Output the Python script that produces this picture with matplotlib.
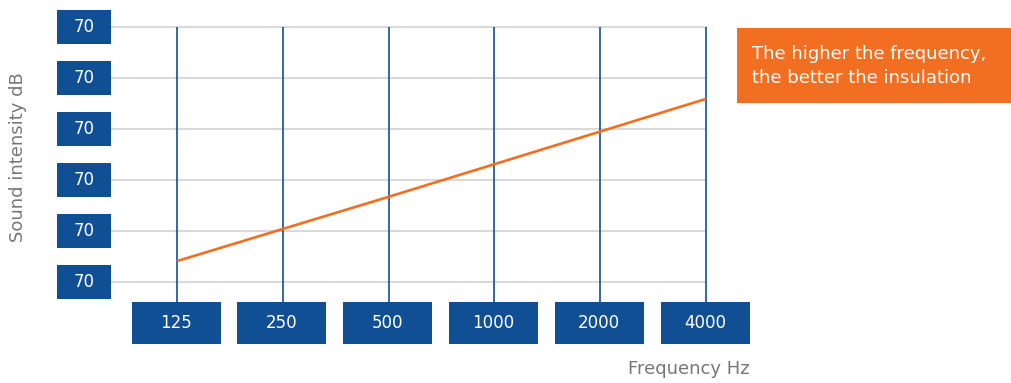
import matplotlib
matplotlib.use("Agg")
import matplotlib.pyplot as plt
from matplotlib.patches import Rectangle

# Data
frequencies = ["125", "250", "500", "1000", "2000", "4000"]
intensity_levels = [0.41, 1.04, 1.67, 2.31, 2.95, 3.59]   # in gridline units
y_tick_positions = [0, 1, 2, 3, 4, 5]
y_tick_labels = ["70", "70", "70", "70", "70", "70"]
note_lines = ["The higher the frequency,", "the better the insulation"]

BLUE = "#114f95"
ORANGE = "#f26f21"
GRID = "#d9d9d9"
GREY_TEXT = "#777777"
FONT = "DejaVu Sans"

W, H = 1011, 383
fig = plt.figure(figsize=(W / 100, H / 100), dpi=100)

# Axes spans from the right edge of the y boxes to the last frequency line
x0_px, x1_px, y_top_px, y_bot_px = 111, 706, 27, 302
ax = fig.add_axes([x0_px / W, 1 - y_bot_px / H, (x1_px - x0_px) / W, (y_bot_px - y_top_px) / H])

xs = list(range(len(frequencies)))
x_step_px = (706 - 177) / 5
y_step_px = (282 - 27) / 5
ax.set_xlim(-(177 - x0_px) / x_step_px, 5)
ax.set_ylim(-(y_bot_px - 282) / y_step_px, 5)

for s in ax.spines.values():
    s.set_visible(False)
ax.set_xticks([])
ax.set_yticks([])

# Horizontal gridlines
for yv in y_tick_positions:
    ax.axhline(yv, color=GRID, lw=1.5, zorder=1, clip_on=False)

# Vertical frequency lines
ymin = ax.get_ylim()[0]
ax.vlines(xs, ymin, 5, color=BLUE, lw=1.2, zorder=2, clip_on=False)

# Intensity line
ax.plot(xs, intensity_levels, color=ORANGE, lw=1.9, zorder=3, solid_capstyle="butt")

# Y tick boxes
ybox_left = -(177 - 57) / x_step_px
ybox_w = (111 - 57) / x_step_px
ybox_h = 34 / y_step_px
for yv, lab in zip(y_tick_positions, y_tick_labels):
    ax.add_patch(Rectangle((ybox_left, yv - ybox_h / 2), ybox_w, ybox_h,
                           facecolor=BLUE, edgecolor="none", clip_on=False, zorder=4))
    ax.text(ybox_left + ybox_w / 2, yv, lab, color="white", fontsize=12,
            family=FONT, ha="center", va="center", zorder=5, clip_on=False)

# X tick boxes
xbox_w = 89 / x_step_px
xbox_top = -(302 - 282) / y_step_px
xbox_h = 42 / y_step_px
for xv, lab in zip(xs, frequencies):
    ax.add_patch(Rectangle((xv - xbox_w / 2 - 1 / x_step_px, xbox_top - xbox_h), xbox_w, xbox_h,
                           facecolor=BLUE, edgecolor="none", clip_on=False, zorder=4))
    ax.text(xv - 1 / x_step_px, xbox_top - xbox_h / 2, lab, color="white", fontsize=12,
            family=FONT, ha="center", va="center", zorder=5, clip_on=False)

# Axis titles
fig.text(18 / W, 1 - 157 / H, "Sound intensity dB", rotation=90, color=GREY_TEXT,
         fontsize=13, family=FONT, ha="center", va="center")
fig.text(750 / W, 1 - 369 / H, "Frequency Hz", color=GREY_TEXT,
         fontsize=13, family=FONT, ha="right", va="center")

# Note box
fig.patches.append(Rectangle((737 / W, 1 - 103 / H), (1011 - 737) / W, (103 - 28) / H,
                             transform=fig.transFigure, facecolor=ORANGE, edgecolor="none"))
for i, line in enumerate(note_lines):
    fig.text(752 / W, 1 - (54 + 24 * i) / H, line, color="white", fontsize=13,
             family=FONT, ha="left", va="center")

fig.savefig("out.png", dpi=100)
